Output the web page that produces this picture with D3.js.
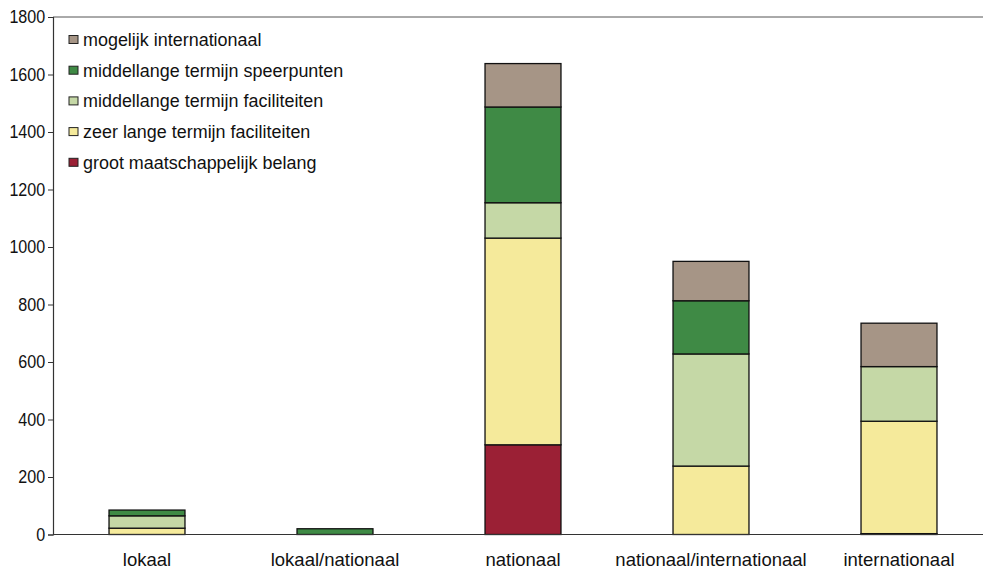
<!DOCTYPE html>
<html>
<head>
<meta charset="utf-8">
<script src="https://cdn.jsdelivr.net/npm/d3@7"></script>
<style>
  html, body { margin: 0; padding: 0; background: #fff; }
  svg { display: block; }
  text { font-family: "Liberation Sans", Arial, sans-serif; fill: #111; }
</style>
</head>
<body>
<svg id="chart" width="983" height="569"></svg>
<script>
// Categories along the x axis
const categories = ["lokaal", "lokaal/nationaal", "nationaal", "nationaal/internationaal", "internationaal"];

// Stack order, bottom to top
const seriesNames = [
  "groot maatschappelijk belang",
  "zeer lange termijn faciliteiten",
  "middellange termijn faciliteiten",
  "middellange termijn speerpunten",
  "mogelijk internationaal"
];

// Values per series, one entry per category
const grootMaatschappelijk    = [0,  0,  312, 0,   3];
const zeerLangeFaciliteiten   = [22, 0,  719, 238, 391];
const middellangeFaciliteiten = [43, 0,  123, 390, 190];
const middellangeSpeerpunten  = [20, 20, 333, 185, 0];
const mogelijkInternationaal  = [0,  0,  151, 137, 151];

const yTicks = [0, 200, 400, 600, 800, 1000, 1200, 1400, 1600, 1800];

const colors = ["#9b2035", "#f5ea9b", "#c5d8a6", "#3f8a45", "#a69586"];

const seriesValues = [grootMaatschappelijk, zeerLangeFaciliteiten, middellangeFaciliteiten, middellangeSpeerpunten, mogelijkInternationaal];

const table = categories.map((c, i) => {
  const row = { category: c };
  seriesNames.forEach((s, k) => { row[s] = seriesValues[k][i]; });
  return row;
});

const svg = d3.select("#chart");
const margin = { left: 53, top: 17, bottom: 534.5 };
const plotRight = 993;
const fontSize = 18.5;

const x = d3.scaleBand().domain(categories).range([margin.left, plotRight]).paddingInner(0.596).paddingOuter(0.298);
const y = d3.scaleLinear().domain([0, 1800]).range([margin.bottom, margin.top]);

const stacked = d3.stack().keys(seriesNames)(table);

// Bars
const layers = svg.append("g").selectAll("g").data(stacked).join("g")
  .attr("fill", (d, i) => colors[i]);

layers.selectAll("rect").data(d => d.filter(p => p[1] - p[0] > 0)).join("rect")
  .attr("x", d => x(d.data.category))
  .attr("width", x.bandwidth())
  .attr("y", d => y(d[1]))
  .attr("height", d => y(d[0]) - y(d[1]))
  .attr("stroke", "#111")
  .attr("stroke-width", 1.3);

// Top frame line
svg.append("line")
  .attr("x1", margin.left).attr("x2", 983)
  .attr("y1", y(1800)).attr("y2", y(1800))
  .attr("stroke", "#555").attr("stroke-width", 1);

// Y axis
const yAxis = svg.append("g")
  .attr("transform", `translate(${margin.left},0)`)
  .call(d3.axisLeft(y).tickValues(yTicks).tickSize(5).tickPadding(4).tickFormat(d3.format("d")));
yAxis.select(".domain").attr("stroke", "#333").attr("stroke-width", 1.2);
yAxis.selectAll(".tick line").attr("stroke", "#333");
yAxis.selectAll(".tick text")
  .attr("font-size", fontSize).attr("font-family", null)
  .attr("transform", "scale(0.87,1)");

// X axis baseline and labels
const xAxis = svg.append("g")
  .attr("transform", `translate(0,${y(0)})`)
  .call(d3.axisBottom(x).tickSize(0).tickPadding(18));
xAxis.select(".domain").attr("d", `M${margin.left},0H983`).attr("stroke", "#333").attr("stroke-width", 1.2);
xAxis.selectAll(".tick text").attr("font-size", fontSize).attr("font-family", null);
svg.selectAll(".tick text").attr("fill", "#111");

// Legend, top entry first
const legendOrder = seriesNames.map((s, i) => ({ name: s, color: colors[i] })).reverse();
const legend = svg.append("g").selectAll("g").data(legendOrder).join("g")
  .attr("transform", (d, i) => `translate(69,${39.5 + i * 30.7})`);
legend.append("rect")
  .attr("x", 0).attr("y", -4).attr("width", 9).attr("height", 8)
  .attr("fill", d => d.color).attr("stroke", "#222").attr("stroke-width", 1);
legend.append("text")
  .attr("transform", "translate(14,0) scale(0.97,1)")
  .attr("dy", "0.35em")
  .attr("font-size", fontSize)
  .text(d => d.name);
</script>
</body>
</html>
